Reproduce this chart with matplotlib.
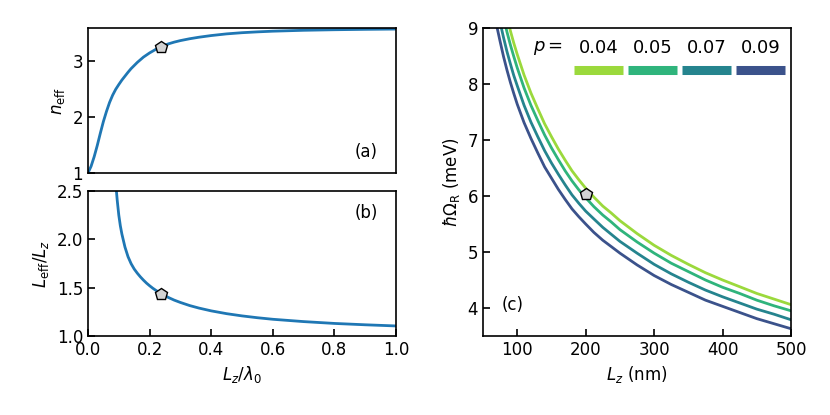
import numpy as np
import matplotlib
matplotlib.use("Agg")
import matplotlib.pyplot as plt

plt.rcParams['font.family'] = ['DejaVu Sans']
plt.rcParams['font.size'] = 12
plt.rcParams['mathtext.fontset'] = 'dejavusans'

# ---- panel (a): effective index vs Lz/lambda0
xa = [0.00, 0.01, 0.02, 0.03, 0.04, 0.05, 0.06, 0.07, 0.08, 0.09, 0.10, 0.11, 0.12, 0.13,
      0.14, 0.16, 0.18, 0.20, 0.22, 0.24, 0.26, 0.28, 0.30, 0.33, 0.36, 0.40, 0.45, 0.50,
      0.55, 0.60, 0.70, 0.80, 0.90, 1.00]
n_eff = [1.00, 1.12, 1.29, 1.49, 1.71, 1.92, 2.10, 2.26, 2.39, 2.495, 2.58, 2.66, 2.73, 2.80,
         2.865, 2.975, 3.07, 3.145, 3.208, 3.262, 3.305, 3.338, 3.365, 3.398, 3.425, 3.455,
         3.485, 3.506, 3.521, 3.533, 3.549, 3.559, 3.566, 3.571]

# ---- panel (b): Leff/Lz vs Lz/lambda0
xb = [0.085, 0.09, 0.095, 0.10, 0.105, 0.11, 0.12, 0.13, 0.14, 0.15, 0.16, 0.17, 0.18,
      0.19, 0.20, 0.21, 0.22, 0.238, 0.26, 0.28, 0.30, 0.33, 0.36, 0.40, 0.45, 0.50,
      0.55, 0.60, 0.70, 0.80, 0.90, 1.00]
leff_ratio = [2.82, 2.58, 2.40, 2.25, 2.14, 2.055, 1.92, 1.82, 1.748, 1.693, 1.65, 1.612, 1.578,
              1.547, 1.52, 1.495, 1.473, 1.437, 1.40, 1.371, 1.347, 1.315, 1.289, 1.26, 1.231, 1.208,
              1.189, 1.173, 1.149, 1.13, 1.116, 1.104]

marker_x = 0.237
marker_n = 3.258
marker_l = 1.436

# ---- panel (c): Rabi splitting vs Lz
Lz = [65, 70, 75, 80, 85, 90, 95, 100, 110, 120, 130, 140, 150, 160, 170, 180, 190, 200,
      212, 225, 237, 250, 275, 300, 325, 350, 375, 400, 425, 450, 475, 500]
p_labels = ['0.04', '0.05', '0.07', '0.09']
omega_p004 = [10.40, 10.05, 9.74, 9.45, 9.19, 8.95, 8.73, 8.53, 8.16, 7.84, 7.56, 7.29, 7.06,
              6.84, 6.64, 6.45, 6.29, 6.14, 5.98, 5.82, 5.70, 5.56, 5.33, 5.12, 4.94, 4.78,
              4.63, 4.50, 4.38, 4.26, 4.16, 4.06]
omega_p005 = [10.11, 9.77, 9.47, 9.19, 8.93, 8.70, 8.49, 8.29, 7.93, 7.62, 7.35, 7.09, 6.86,
              6.65, 6.45, 6.27, 6.11, 5.97, 5.81, 5.66, 5.54, 5.40, 5.18, 4.98, 4.80, 4.65,
              4.50, 4.37, 4.26, 4.14, 4.04, 3.95]
omega_p007 = [9.71, 9.39, 9.10, 8.83, 8.58, 8.36, 8.15, 7.97, 7.62, 7.32, 7.06, 6.81, 6.59,
              6.39, 6.20, 6.02, 5.87, 5.73, 5.59, 5.44, 5.32, 5.19, 4.98, 4.78, 4.61, 4.46,
              4.32, 4.20, 4.09, 3.98, 3.89, 3.79]
omega_p009 = [9.36, 9.04, 8.76, 8.49, 8.25, 8.03, 7.83, 7.64, 7.31, 7.03, 6.77, 6.52, 6.32,
              6.12, 5.94, 5.77, 5.63, 5.50, 5.35, 5.21, 5.10, 4.98, 4.77, 4.58, 4.42, 4.28,
              4.14, 4.03, 3.92, 3.81, 3.72, 3.63]
omegas = [omega_p004, omega_p005, omega_p007, omega_p009]
marker_Lz = 200
marker_omega = 6.03

colors = [plt.cm.viridis(v) for v in (0.85, 0.65, 0.45, 0.25)]

fig = plt.figure(figsize=(8.3, 4.15), dpi=100)
W, H = 830, 415
def box(l, t, r, b):
    return [l / W, (H - b) / H, (r - l) / W, (b - t) / H]

axa = fig.add_axes(box(88, 28, 396, 173))
axb = fig.add_axes(box(88, 191, 396, 336))
axc = fig.add_axes(box(483, 28, 791, 336))

for ax in (axa, axb, axc):
    for s in ax.spines.values():
        s.set_linewidth(1.2)
    ax.tick_params(direction='in', length=5, width=1.2, labelsize=12)

mk = dict(marker='p', ms=9, mfc='lightgray', mec='black', mew=1.0, zorder=5)

# (a)
axa.plot(xa, n_eff, color='tab:blue', lw=2)
axa.plot([marker_x], [marker_n], **mk)
axa.set_xlim(0, 1)
axa.set_ylim(1, 3.59)
axa.set_yticks([1, 2, 3])
axa.set_xticks([])
axa.set_ylabel(r'$n_{\rm eff}$')
axa.text(0.94, 0.145, '(a)', transform=axa.transAxes, ha='right', va='center', fontsize=12)

# (b)
axb.plot(xb, leff_ratio, color='tab:blue', lw=2)
axb.plot([marker_x], [marker_l], **mk)
axb.set_xlim(0, 1)
axb.set_ylim(1.0, 2.5)
axb.set_yticks([1.0, 1.5, 2.0, 2.5])
axb.set_xticks([0.0, 0.2, 0.4, 0.6, 0.8, 1.0])
axb.set_ylabel(r'$L_{\rm eff}/L_z$')
axb.set_xlabel(r'$L_z/\lambda_0$')
axb.text(0.94, 0.846, '(b)', transform=axb.transAxes, ha='right', va='center', fontsize=12)

# (c)
for om, c in zip(omegas, colors):
    axc.plot(Lz, om, color=c, lw=2)
axc.plot([marker_Lz], [marker_omega], **mk)
axc.set_xlim(50, 500)
axc.set_ylim(3.5, 9)
axc.set_xticks([100, 200, 300, 400, 500])
axc.set_yticks([4, 5, 6, 7, 8, 9])
axc.set_xlabel(r'$L_z$ (nm)')
axc.set_ylabel(r'$\hbar\Omega_{\rm R}$ (meV)')
axc.text(0.06, 0.10, '(c)', transform=axc.transAxes, ha='left', va='center', fontsize=12)

# legend (labels above thick bars)
axc.text(0.211, 0.935, r'$p=$', transform=axc.transAxes, ha='center', va='center', fontsize=13)
for i, (lab, c) in enumerate(zip(p_labels, colors)):
    x0 = 0.295 + i * 0.175
    axc.plot([x0, x0 + 0.161], [0.865, 0.865], transform=axc.transAxes, color=c,
             lw=6.5, solid_capstyle='butt', clip_on=False)
    axc.text(x0 + 0.0805, 0.935, lab, transform=axc.transAxes, ha='center', va='center', fontsize=13)

fig.savefig('out.png', dpi=100)
